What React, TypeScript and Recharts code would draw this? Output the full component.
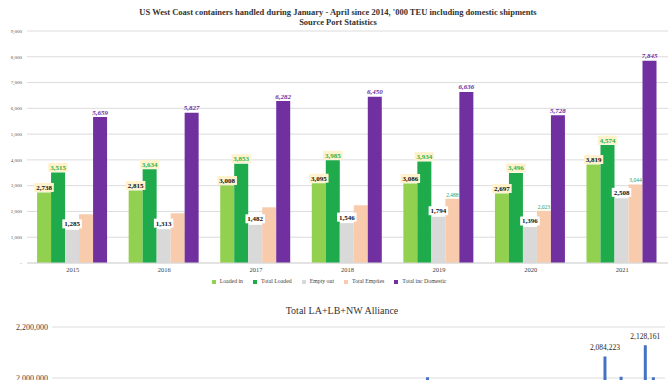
import React from 'react'
import { BarChart, Bar, XAxis, YAxis, CartesianGrid, Legend, LabelList } from 'recharts'

// West Coast Jan-Apr volumes, '000 TEU
const years = ['2015', '2016', '2017', '2018', '2019', '2020', '2021']
const loadedIn = [2738, 2815, 3008, 3095, 3086, 2697, 3819]
const totalLoaded = [3515, 3634, 3853, 3985, 3934, 3496, 4574]
const emptyOut = [1285, 1313, 1482, 1546, 1794, 1396, 2508]
const totalEmpties = [1890, 1930, 2160, 2240, 2488, 2023, 3044]
const totalIncDomestic = [5659, 5827, 6282, 6450, 6636, 5728, 7845]
const emptiesLabelled = [false, false, false, false, true, true, true]
const yTicks = [0, 1000, 2000, 3000, 4000, 5000, 6000, 7000, 8000, 9000]
const seriesOrder = ['Loaded in', 'Total Loaded', 'Empty out', 'Total Empties', 'Total inc Domestic']

// LA+LB+NW Alliance monthly TEU (only the top of the chart is in view)
const monthNames = ['Jan', 'Feb', 'Mar', 'Apr', 'May', 'Jun', 'Jul', 'Aug', 'Sep', 'Oct', 'Nov', 'Dec']
const allianceTeu = [
  1452000, 1187000, 1384000, 1563000, 1621000, 1684000, 1722000, 1751000, 1693000, 1708000, 1582000, 1566000,
  1553000, 1421000, 1382000, 1548000, 1604000, 1626000, 1718000, 1764000, 1702000, 1726000, 1618000, 1561000,
  1604000, 1442000, 1486000, 1641000, 1703000, 1724000, 1822000, 1861000, 1784000, 1806000, 1722000, 1683000,
  1702000, 1584000, 1563000, 1704000, 1762000, 1806000, 1883000, 1921000, 1864000, 1942000, 2003000, 1826000,
  1763000, 1524000, 1483000, 1684000, 1762000, 1741000, 1823000, 1862000, 1764000, 1781000, 1702000, 1643000,
  1703000, 1304000, 1362000, 1483000, 1524000, 1622000, 1862000, 1963000, 2084223, 1981000, 2005000, 1962000,
  1942000, 2128161, 2003000, 1961000,
]
const allianceTicks = [2000000, 2200000]

const SERIF = "'Liberation Serif', 'Times New Roman', serif"
const fmt = (v: number) => v.toLocaleString('en-US')

const topData = years.map((year, i) => ({
  year,
  loadedIn: loadedIn[i],
  totalLoaded: totalLoaded[i],
  emptyOut: emptyOut[i],
  totalEmpties: totalEmpties[i],
  totalIncDomestic: totalIncDomestic[i],
}))

const allianceData = years
  .flatMap(y => monthNames.map(m => `${m}-${y.slice(2)}`))
  .slice(0, allianceTeu.length)
  .map((month, i) => ({ month, teu: allianceTeu[i] }))

type LabelOpts = {
  color: string
  bg?: string
  size: number
  bold?: boolean
  italic?: boolean
  lift: number
  show?: boolean[]
}

const barLabel = (o: LabelOpts) => (p: any) => {
  const vb = p.viewBox || {}
  const x = Number(p.x ?? vb.x)
  const y = Number(p.y ?? vb.y)
  const width = Number(p.width ?? vb.width)
  if (p.value == null) return null
  if (o.show && !o.show[p.index]) return null
  const text = fmt(Number(p.value))
  const cx = x + width / 2
  const cy = y - o.lift
  const w = text.length * o.size * 0.5 + 2
  const h = o.size + 2
  return (
    <g>
      {o.bg && <rect x={cx - w / 2} y={cy - h / 2} width={w} height={h} fill={o.bg} />}
      <text
        x={cx}
        y={cy}
        dy="0.35em"
        textAnchor="middle"
        fontSize={o.size}
        fontWeight={o.bold ? 'bold' : 'normal'}
        fontStyle={o.italic ? 'italic' : 'normal'}
        fill={o.color}
      >
        {text}
      </text>
    </g>
  )
}

const allianceLabel = (p: any) => {
  const vb = p.viewBox || {}
  const x = Number(p.x ?? vb.x)
  const y = Number(p.y ?? vb.y)
  const width = Number(p.width ?? vb.width)
  if (Number(p.value) < 2050000) return null
  return (
    <text x={x + width / 2} y={y - 9} dy="0.35em" textAnchor="middle" fontSize={7.5} fill="#262626">
      {fmt(Number(p.value))}
    </text>
  )
}

export default function App() {
  return (
    <div
      style={{
        position: 'absolute', left: 0, top: 0, width: 670, height: 380,
        overflow: 'hidden', background: '#fff', fontFamily: SERIF,
      }}
    >
      <div style={{ position: 'absolute', top: 7, left: 0, width: 676, textAlign: 'center', fontSize: 8.5, fontWeight: 'bold', lineHeight: '10px', color: '#333' }}>
        US West Coast containers handled during January - April since 2014, '000 TEU including domestic shipments
        <br />
        Source Port Statistics
      </div>

      <div style={{ position: 'absolute', top: 0, left: 0 }}>
        <BarChart
          width={670}
          height={300}
          data={topData}
          margin={{ top: 31, right: 2, left: 0, bottom: 15 }}
          barCategoryGap="11%"
          barGap={0}
        >
          <CartesianGrid vertical={false} stroke="#dcdcdc" />
          <XAxis
            dataKey="year"
            height={14}
            tickLine={false}
            axisLine={{ stroke: '#d9d9d9' }}
            tickSize={2}
            tickMargin={2}
            tick={{ fontSize: 6.5, fill: '#404040' }}
          />
          <YAxis
            domain={[0, 9000]}
            ticks={yTicks}
            interval={0}
            width={27}
            tickLine={false}
            axisLine={false}
            tickSize={3}
            tickMargin={2}
            tick={{ fontSize: 5, fill: '#595959' }}
            tickFormatter={(v: number) => (v === 0 ? '-' : fmt(v))}
          />
          <Legend
            verticalAlign="bottom"
            iconType="square"
            iconSize={4}
            itemSorter={(item: any) => seriesOrder.indexOf(item.value)}
            wrapperStyle={{ fontSize: 5.8, lineHeight: '8px', fontFamily: SERIF }}
            formatter={(value: string) => <span style={{ color: '#404040' }}>{value}</span>}
          />
          <Bar dataKey="loadedIn" name="Loaded in" fill="#92d050" isAnimationActive={false}>
            <LabelList dataKey="loadedIn" content={barLabel({ color: '#111', bg: '#fff2cc', size: 7, bold: true, lift: 5 })} />
          </Bar>
          <Bar dataKey="totalLoaded" name="Total Loaded" fill="#1faa4b" isAnimationActive={false}>
            <LabelList dataKey="totalLoaded" content={barLabel({ color: '#2db34a', bg: '#fff2cc', size: 7, bold: true, lift: 5 })} />
          </Bar>
          <Bar dataKey="emptyOut" name="Empty out" fill="#d9d9d9" isAnimationActive={false}>
            <LabelList dataKey="emptyOut" content={barLabel({ color: '#111', bg: '#ffffff', size: 7, bold: true, lift: 6 })} />
          </Bar>
          <Bar dataKey="totalEmpties" name="Total Empties" fill="#f8cbad" isAnimationActive={false}>
            <LabelList dataKey="totalEmpties" content={barLabel({ color: '#2ca05a', size: 5.5, lift: 4, show: emptiesLabelled })} />
          </Bar>
          <Bar dataKey="totalIncDomestic" name="Total inc Domestic" fill="#7030a0" isAnimationActive={false}>
            <LabelList dataKey="totalIncDomestic" content={barLabel({ color: '#7030a0', size: 7, bold: true, italic: true, lift: 5 })} />
          </Bar>
        </BarChart>
      </div>

      <div style={{ position: 'absolute', top: 305, left: 0, width: 684, textAlign: 'center', fontSize: 10, lineHeight: '12px', color: '#333' }}>
        Total LA+LB+NW Alliance
      </div>

      <div style={{ position: 'absolute', top: 300, left: 0 }}>
        <BarChart
          width={670}
          height={260}
          data={allianceData}
          margin={{ top: 27, right: 5, left: 0, bottom: 29 }}
          barSize={3}
        >
          <CartesianGrid vertical={false} stroke="#dcdcdc" />
          <XAxis dataKey="month" hide />
          <YAxis
            domain={[1400000, 2200000]}
            allowDataOverflow
            ticks={allianceTicks}
            interval={0}
            width={52}
            tickLine={false}
            axisLine={false}
            tickSize={0}
            tickMargin={4}
            tick={{ fontSize: 8, fill: '#404040' }}
            tickFormatter={(v: number) => fmt(v)}
          />
          <Bar dataKey="teu" name="Total LA+LB+NW Alliance" fill="#4472c4" isAnimationActive={false}>
            <LabelList dataKey="teu" content={allianceLabel} />
          </Bar>
        </BarChart>
      </div>
    </div>
  )
}
